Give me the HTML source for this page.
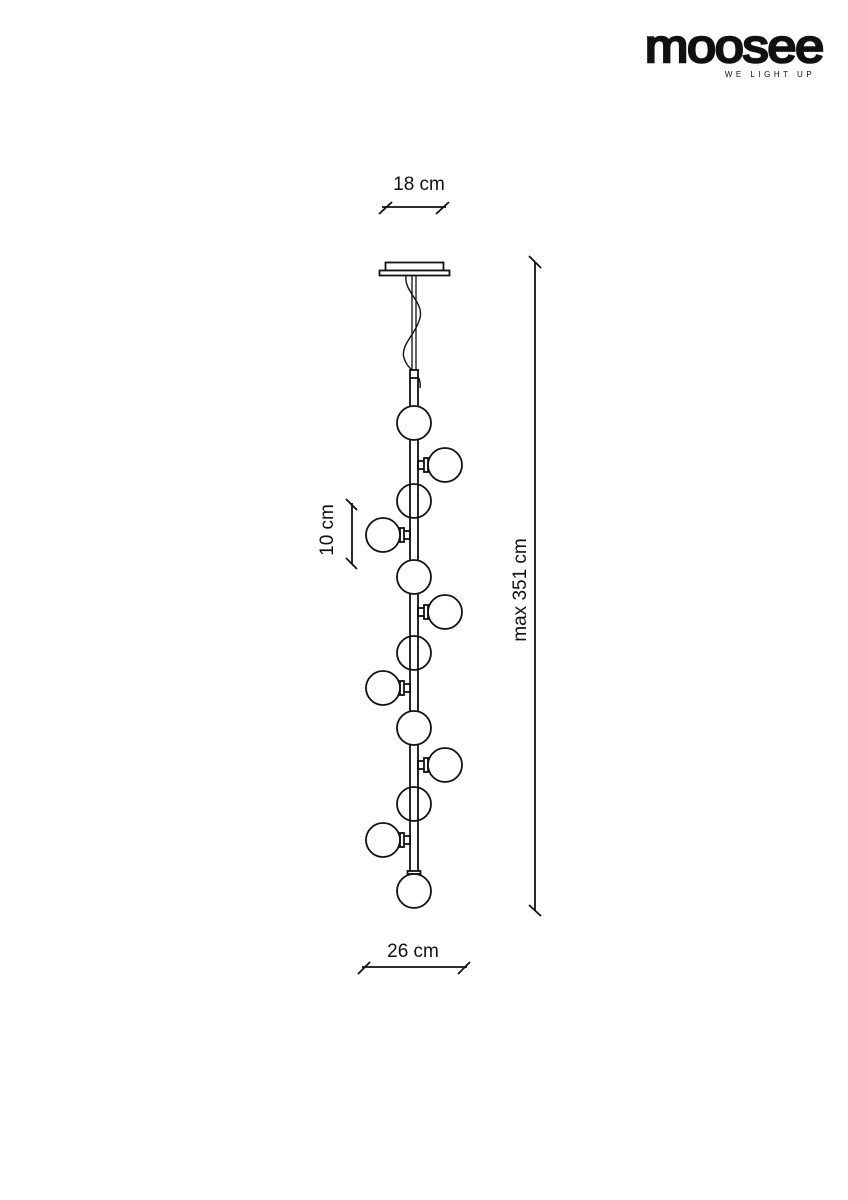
<!DOCTYPE html>
<html><head><meta charset="utf-8"><style>
html,body{margin:0;padding:0;background:#fff;}
svg{display:block}
text{font-family:"Liberation Sans",Arial,sans-serif;fill:#111}
</style></head><body>
<svg width="848" height="1200" viewBox="0 0 848 1200" xmlns="http://www.w3.org/2000/svg">
<rect width="848" height="1200" fill="#fff"/>
<text x="734" y="62" font-size="46" text-anchor="middle" stroke="#111" stroke-width="2.5" letter-spacing="-1" textLength="178" lengthAdjust="spacingAndGlyphs">moosee</text>
<text x="770" y="77" font-size="8" text-anchor="middle" letter-spacing="3.5">WE LIGHT UP</text>

<g stroke="#111" fill="none" stroke-width="1.8">
<line x1="382" y1="207" x2="446" y2="207"/>
<line x1="379" y1="214" x2="392" y2="202"/>
<line x1="436" y1="214" x2="449" y2="202"/>
<line x1="535" y1="262" x2="535" y2="910"/>
<line x1="529" y1="256" x2="541" y2="268"/>
<line x1="529" y1="905" x2="541" y2="916"/>
<line x1="352" y1="503" x2="352" y2="564"/>
<line x1="346" y1="499" x2="357" y2="510"/>
<line x1="346" y1="558" x2="357" y2="569"/>
<line x1="362" y1="967" x2="467" y2="967"/>
<line x1="358" y1="974" x2="370" y2="962"/>
<line x1="458" y1="974" x2="470" y2="962"/>

<rect x="385.5" y="262.5" width="58" height="8" fill="#fff"/>
<rect x="379.5" y="270.5" width="70" height="5" fill="#fff"/>
<line x1="412" y1="276" x2="412" y2="374" stroke-width="1.3"/>
<line x1="416" y1="276" x2="416" y2="374" stroke-width="1.3"/>
<path d="M406 276 C404 292 424 302 420 318 C416 334 400 345 404 358 C408 372 422 372 420 388" stroke-width="1.4"/>
<rect x="410" y="370" width="8" height="8" fill="#fff"/>

<g fill="#fff">
<rect x="418" y="461" width="7" height="8"/><rect x="424" y="458" width="4" height="14"/>
<rect x="418" y="608" width="7" height="8"/><rect x="424" y="605" width="4" height="14"/>
<rect x="418" y="761" width="7" height="8"/><rect x="424" y="758" width="4" height="14"/>
<rect x="403" y="531" width="7" height="8"/><rect x="400" y="528" width="4" height="14"/>
<rect x="403" y="684" width="7" height="8"/><rect x="400" y="681" width="4" height="14"/>
<rect x="403" y="836" width="7" height="8"/><rect x="400" y="833" width="4" height="14"/>
</g>
<g fill="#fff">
<circle cx="414" cy="501" r="17"/>
<circle cx="414" cy="653" r="17"/>
<circle cx="414" cy="804" r="17"/>
<circle cx="445" cy="465" r="17"/>
<circle cx="445" cy="612" r="17"/>
<circle cx="445" cy="765" r="17"/>
<circle cx="383" cy="535" r="17"/>
<circle cx="383" cy="688" r="17"/>
<circle cx="383" cy="840" r="17"/>
</g>
<line x1="410" y1="378" x2="410" y2="872"/>
<line x1="418" y1="378" x2="418" y2="872"/>
<rect x="407.5" y="871" width="13" height="3" fill="#fff"/>
<g fill="#fff">
<circle cx="414" cy="423" r="17"/>
<circle cx="414" cy="577" r="17"/>
<circle cx="414" cy="728" r="17"/>
<circle cx="414" cy="891" r="17"/>
</g>
</g>

<text x="419" y="190" font-size="19" text-anchor="middle">18 cm</text>
<text x="413" y="957" font-size="19" text-anchor="middle">26 cm</text>
<text transform="translate(333,530) rotate(-90)" font-size="19" text-anchor="middle">10 cm</text>
<text transform="translate(526,590) rotate(-90)" font-size="19" text-anchor="middle">max 351 cm</text>
</svg>
</body></html>
